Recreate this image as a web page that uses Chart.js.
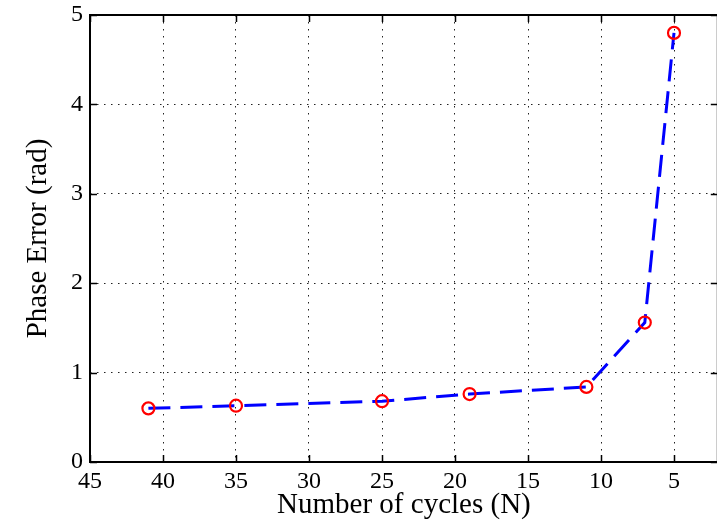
<!DOCTYPE html>
<html>
<head>
<meta charset="utf-8">
<script src="https://cdn.jsdelivr.net/npm/chart.js@4/dist/chart.umd.min.js"></script>
<style>
  html, body { margin: 0; padding: 0; background: #fff; overflow: hidden; }
  #wrap { width: 726px; height: 523px; }
</style>
</head>
<body>
<div id="wrap"><canvas id="phaseChart" width="726" height="523"></canvas></div>
<script>
// cycles N vs. phase error
const cycles = [41, 35, 25, 19, 11, 7, 5];
const phaseError = [0.60, 0.63, 0.68, 0.76, 0.84, 1.56, 4.80];
const xTicks = [45, 40, 35, 30, 25, 20, 15, 10, 5];
const yTicks = [0, 1, 2, 3, 4, 5];

const serif = '"Liberation Serif", "Times New Roman", serif';

// axes box plus inward tick marks, MATLAB style
const boxPlugin = {
    id: 'box',
    afterDraw(chart) {
        const { ctx, chartArea: a, scales } = chart;
        const len = 7;
        ctx.save();
        ctx.strokeStyle = '#000';
        ctx.lineWidth = 1.5;
        ctx.setLineDash([]);
        ctx.beginPath();
        xTicks.forEach(v => {
            const px = Math.round(scales.x.getPixelForValue(v)) + 0.5;
            ctx.moveTo(px, a.bottom); ctx.lineTo(px, a.bottom - len);
            ctx.moveTo(px, a.top); ctx.lineTo(px, a.top + len);
        });
        yTicks.forEach(v => {
            const py = Math.round(scales.y.getPixelForValue(v)) + 0.5;
            ctx.moveTo(a.left, py); ctx.lineTo(a.left + len, py);
            ctx.moveTo(a.right, py); ctx.lineTo(a.right - len, py);
        });
        ctx.stroke();
        ctx.lineWidth = 2;
        ctx.strokeRect(a.left, a.top, a.right - a.left, a.bottom - a.top);
        ctx.restore();
    }
};

new Chart(document.getElementById('phaseChart'), {
    type: 'line',
    data: {
        datasets: [{
            data: cycles.map((c, i) => ({ x: c, y: phaseError[i] })),
            borderColor: '#0000ff',
            borderWidth: 3,
            borderDash: [22, 10],
            tension: 0,
            fill: false,
            pointStyle: 'circle',
            pointRadius: 6,
            pointBorderWidth: 2.2,
            pointBorderColor: '#ff0000',
            pointBackgroundColor: 'rgba(0,0,0,0)'
        }]
    },
    options: {
        responsive: false,
        animation: false,
        layout: { padding: { top: 15, right: 1, left: 0, bottom: 0 } },
        plugins: { legend: { display: false }, tooltip: { enabled: false } },
        scales: {
            x: {
                type: 'linear',
                reverse: true,
                min: 2,
                max: 45,
                afterBuildTicks: s => { s.ticks = xTicks.map(v => ({ value: v })); },
                afterFit: s => {
                    s.height = 61;
                    s.paddingLeft = 0;
                    s.paddingRight = 0;
                },
                grid: {
                    color: c => (c.tick && c.tick.value === 45) ? 'rgba(0,0,0,0)' : '#222',
                    lineWidth: 1,
                    drawTicks: false
                },
                border: { display: false, dash: [1.5, 5.5] },
                ticks: {
                    color: '#000',
                    padding: 5,
                    font: { family: serif, size: 24 }
                },
                title: {
                    display: true,
                    text: 'Number of cycles (N)',
                    color: '#000',
                    padding: { top: 0, bottom: 0 },
                    font: { family: serif, size: 29 }
                }
            },
            y: {
                min: 0,
                max: 5,
                afterBuildTicks: s => { s.ticks = yTicks.map(v => ({ value: v })); },
                afterFit: s => {
                    s.width = 90;
                    s.paddingTop = 0;
                    s.paddingBottom = 0;
                },
                grid: {
                    color: c => (c.tick && (c.tick.value === 0 || c.tick.value === 5)) ? 'rgba(0,0,0,0)' : '#222',
                    lineWidth: 1,
                    drawTicks: false
                },
                border: { display: false, dash: [1.5, 5.5] },
                ticks: {
                    color: '#000',
                    padding: 7,
                    font: { family: serif, size: 24 }
                },
                title: {
                    display: true,
                    text: 'Phase Error (rad)',
                    color: '#000',
                    padding: { top: 21, bottom: 0 },
                    font: { family: serif, size: 29 }
                }
            }
        }
    },
    plugins: [boxPlugin]
});
</script>
</body>
</html>
